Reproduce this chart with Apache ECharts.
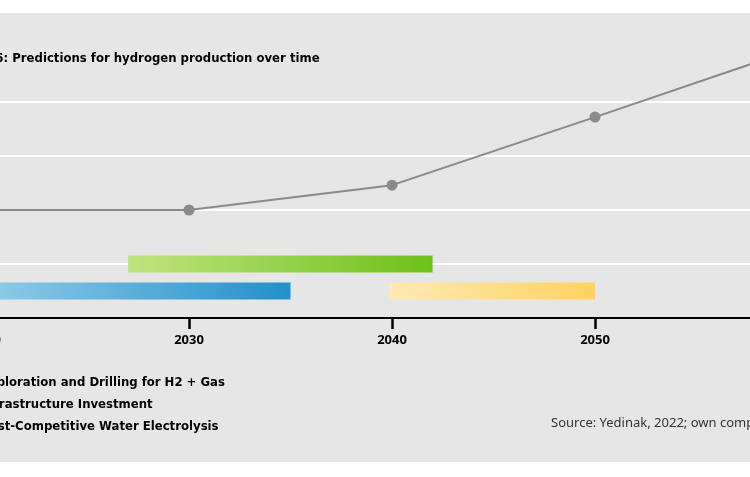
<!DOCTYPE html>
<html><head><meta charset="utf-8">
<script src="https://cdn.jsdelivr.net/npm/echarts@6/dist/echarts.min.js"></script>
<style>html,body{margin:0;padding:0;background:#fff}#c{width:750px;height:477px}</style>
</head><body><div id="c"></div>
<script>
// ---- data ----
const years = [2020, 2030, 2040, 2050, 2060];
const production = [2, 2, 2.46, 3.72, 5.0];
const barNames = ['Exploration and Drilling for H2 + Gas', 'Infrastructure Investment', 'Cost-Competitive Water Electrolysis'];
const barStart = [2020, 2027, 2039.9];
const barEnd = [2035, 2042, 2050];
const barRow = [0.5, 1, 0.5];
const titleText = 'Figure 6: Predictions for hydrogen production over time';
const sourceText = 'Source: Yedinak, 2022; own compilation';

// ---- styles ----
const barGrad = [
  ['#90cce9', '#2290cb'],
  ['#bfe47f', '#6ec11a'],
  ['#ffeab4', '#ffd25f']
];
const condFamily = '"Liberation Sans Narrow", "DejaVu Sans Condensed", "Roboto", sans-serif';
const boldFont = 'bold 13px ' + condFamily;

function measure(txt, font) {
  const c = document.createElement('canvas').getContext('2d');
  c.font = font;
  return c.measureText(txt).width;
}
const titleX = 3.5 - measure('Figure 6', boldFont);
const legendTextX = -measure('Exp', boldFont);

const chart = echarts.init(document.getElementById('c'));
const series = [];
barNames.forEach((name, i) => {
  series.push({
    name: name,
    type: 'custom',
    itemStyle: { color: barGrad[i][1] },
    encode: { x: [0, 1], y: 2 },
    data: [[barStart[i], barEnd[i], barRow[i]]],
    renderItem: (params, api) => {
      const s = api.coord([api.value(0), api.value(2)]);
      const e = api.coord([api.value(1), api.value(2)]);
      const h = 17;
      return {
        type: 'rect',
        shape: { x: s[0], y: s[1] - h / 2, width: e[0] - s[0], height: h },
        style: { fill: new echarts.graphic.LinearGradient(0, 0, 1, 0, [
          { offset: 0, color: barGrad[i][0] }, { offset: 1, color: barGrad[i][1] }]) }
      };
    }
  });
});
series.push({
  name: 'Hydrogen production',
  type: 'line',
  data: years.map((y, i) => [y, production[i]]),
  symbol: 'circle',
  symbolSize: 11,
  clip: false,
  itemStyle: { color: '#8a8a8a' },
  lineStyle: { color: '#8a8a8a', width: 2 },
  z: 5
});

chart.setOption({
  backgroundColor: '#ffffff',
  animation: false,
  graphic: [
    { type: 'rect', z: -100, silent: true, shape: { x: 0, y: 13, width: 750, height: 449 }, style: { fill: '#e6e6e6' } },
    { type: 'text', left: titleX, top: 52, style: { text: titleText, font: boldFont, fill: '#000' } },
    { type: 'text', left: 551, top: 417, style: { text: sourceText, font: '13px "Noto Sans", sans-serif', fill: '#333' } }
  ],
  legend: {
    data: barNames,
    orient: 'vertical',
    left: legendTextX - 14 - 5,
    top: 371,
    itemWidth: 14,
    itemHeight: 14,
    itemGap: 8,
    icon: 'rect',
    textStyle: { fontFamily: condFamily, fontWeight: 'bold', fontSize: 13, color: '#000' }
  },
  grid: { left: -14, top: 102, width: 812, height: 216, outerBoundsMode: 'none', containLabel: false },
  xAxis: {
    type: 'value', min: 2020, max: 2060, interval: 10, z: 10,
    axisLine: { show: true, onZero: false, lineStyle: { color: '#000', width: 2 } },
    axisTick: { show: true, inside: false, length: 11, interval: 0, lineStyle: { color: '#000', width: 2.5, opacity: 1 } },
    axisLabel: { color: '#000', fontFamily: 'Noto Sans', fontWeight: 'bold', fontSize: 13, margin: 16, formatter: v => String(v) },
    splitLine: { show: false }
  },
  yAxis: {
    type: 'value', min: 0, max: 4, interval: 1,
    axisLine: { show: false }, axisTick: { show: false }, axisLabel: { show: false },
    splitLine: { show: true, lineStyle: { color: '#ffffff', width: 2 } }
  },
  series: series
});
</script></body></html>
